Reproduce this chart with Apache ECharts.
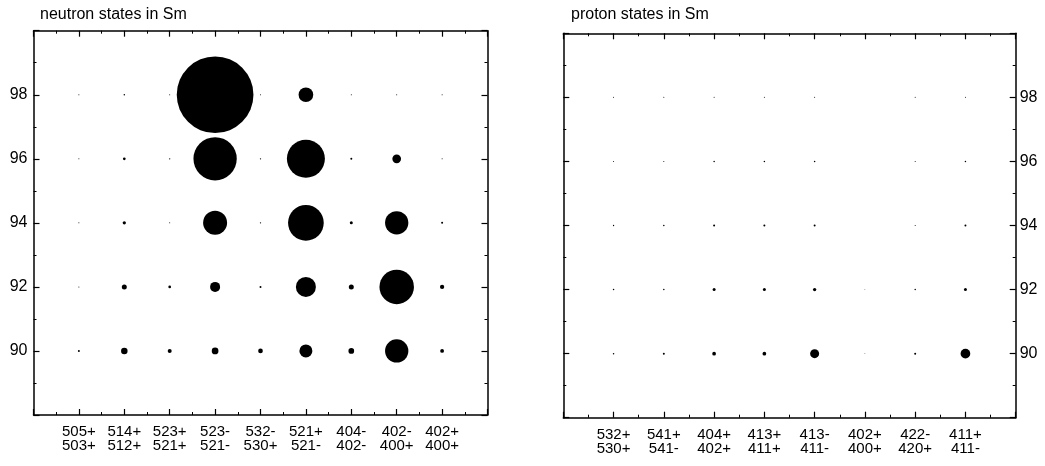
<!DOCTYPE html>
<html>
<head>
<meta charset="utf-8">
<script src="https://cdn.jsdelivr.net/npm/echarts@6/dist/echarts.min.js"></script>
<style>
html,body{margin:0;padding:0;background:#fff;}
#chart{width:1045px;height:466px;}
</style>
</head>
<body>
<div id="chart"></div>
<script>
// ---- data ----
const neutronStates = ['505+\n503+','514+\n512+','523+\n521+','523-\n521-','532-\n530+','521+\n521-','404-\n402-','402-\n400+','402+\n400+'];
const protonStates  = ['532+\n530+','541+\n541-','404+\n402+','413+\n411+','413-\n411-','402+\n400+','422-\n420+','411+\n411-'];
const nLevels = [90, 92, 94, 96, 98];
const yTicks = [90, 92, 94, 96, 98];

// marker strength (drawn as circle diameter) per neutron number, neutron states
const neutronN90 = [2, 6.5, 4, 6.7, 4.7, 13, 5.7, 23.3, 3.8];
const neutronN92 = [1, 5, 2.7, 10, 2, 20, 5, 34.5, 4.3];
const neutronN94 = [1, 3.3, 1, 24, 1.3, 35.7, 3, 23.3, 2];
const neutronN96 = [1, 2.7, 1.3, 43.3, 1.3, 38, 2, 8.7, 1];
const neutronN98 = [1, 1.5, 1, 76.7, 1, 14.7, 1, 1, 1];

// proton states
const protonN90 = [1.5, 2, 3.7, 3.7, 9, 0.7, 2, 9.7];
const protonN92 = [1.5, 1.5, 3, 3, 3.3, 0.7, 1.5, 3];
const protonN94 = [1.3, 1.5, 2, 2, 2, 0, 1, 2];
const protonN96 = [1, 1, 1.5, 1.5, 1.5, 0, 1, 1.5];
const protonN98 = [1, 1, 1, 1, 1, 0, 1, 1];

// ---- build ----
function build(rows) {
  const out = [];
  rows.forEach((row, r) => {
    row.forEach((v, i) => {
      if (v > 0) out.push([i + 1, nLevels[r], v]);
    });
  });
  return out;
}
const neutronData = build([neutronN90, neutronN92, neutronN94, neutronN96, neutronN98]);
const protonData  = build([protonN90, protonN92, protonN94, protonN96, protonN98]);

const FONT = "'Liberation Sans', Arial, sans-serif";
const AX = '#000';

function xAxisDef(grid, cats, pos, showLabel) {
  return {
    type: 'value', gridIndex: grid, position: pos,
    min: 0, max: cats.length + 1, interval: 1,
    splitLine: {show: false},
    axisLine: {show: true, onZero: false, lineStyle: {color: AX, width: 1.5}},
    axisTick: {show: true, inside: true, length: 6, lineStyle: {color: AX, width: 1.2}},
    minorTick: {show: true, splitNumber: 2, length: 3, lineStyle: {color: AX, width: 1}},
    axisLabel: {
      show: showLabel, margin: 10, color: '#000', fontSize: 15, fontFamily: FONT, lineHeight: 14,
      showMinLabel: true, showMaxLabel: true,
      formatter: v => (Number.isInteger(v) && v >= 1 && v <= cats.length) ? cats[v - 1] : ''
    }
  };
}
function yAxisDef(grid, pos, showLabel) {
  return {
    type: 'value', gridIndex: grid, position: pos,
    min: 88, max: 100, interval: 2,
    splitLine: {show: false},
    axisLine: {show: true, onZero: false, lineStyle: {color: AX, width: 1.5}},
    axisTick: {show: true, inside: true, length: 6, lineStyle: {color: AX, width: 1.2}},
    minorTick: {show: true, splitNumber: 2, length: 3, lineStyle: {color: AX, width: 1}},
    axisLabel: {
      show: showLabel, margin: pos === 'left' ? 6 : 4, color: '#000', fontSize: 16, fontFamily: FONT,
      formatter: v => yTicks.indexOf(v) >= 0 ? String(v) : ''
    }
  };
}

const option = {
  animation: false,
  backgroundColor: '#fff',
  title: [
    {text: 'neutron states in Sm', left: 35, top: 2, textStyle: {fontSize: 16, fontWeight: 'normal', color: '#000', fontFamily: FONT}},
    {text: 'proton states in Sm', left: 566, top: 2, textStyle: {fontSize: 16, fontWeight: 'normal', color: '#000', fontFamily: FONT}}
  ],
  grid: [
    {left: 33.5, top: 30.7, width: 454, height: 384.3},
    {left: 563.3, top: 33.3, width: 452.4, height: 384.4}
  ],
  xAxis: [
    xAxisDef(0, neutronStates, 'bottom', true),
    xAxisDef(0, neutronStates, 'top', false),
    xAxisDef(1, protonStates, 'bottom', true),
    xAxisDef(1, protonStates, 'top', false)
  ],
  yAxis: [
    yAxisDef(0, 'left', true),
    yAxisDef(0, 'right', false),
    yAxisDef(1, 'left', false),
    yAxisDef(1, 'right', true)
  ],
  series: [
    {type: 'scatter', xAxisIndex: 0, yAxisIndex: 0, data: neutronData,
     symbol: 'circle', symbolSize: d => d[2], itemStyle: {color: '#000', opacity: 1}, silent: true},
    {type: 'scatter', xAxisIndex: 2, yAxisIndex: 2, data: protonData,
     symbol: 'circle', symbolSize: d => d[2], itemStyle: {color: '#000', opacity: 1}, silent: true}
  ]
};

const chart = echarts.init(document.getElementById('chart'), null, {renderer: 'canvas'});
chart.setOption(option);
</script>
</body>
</html>
